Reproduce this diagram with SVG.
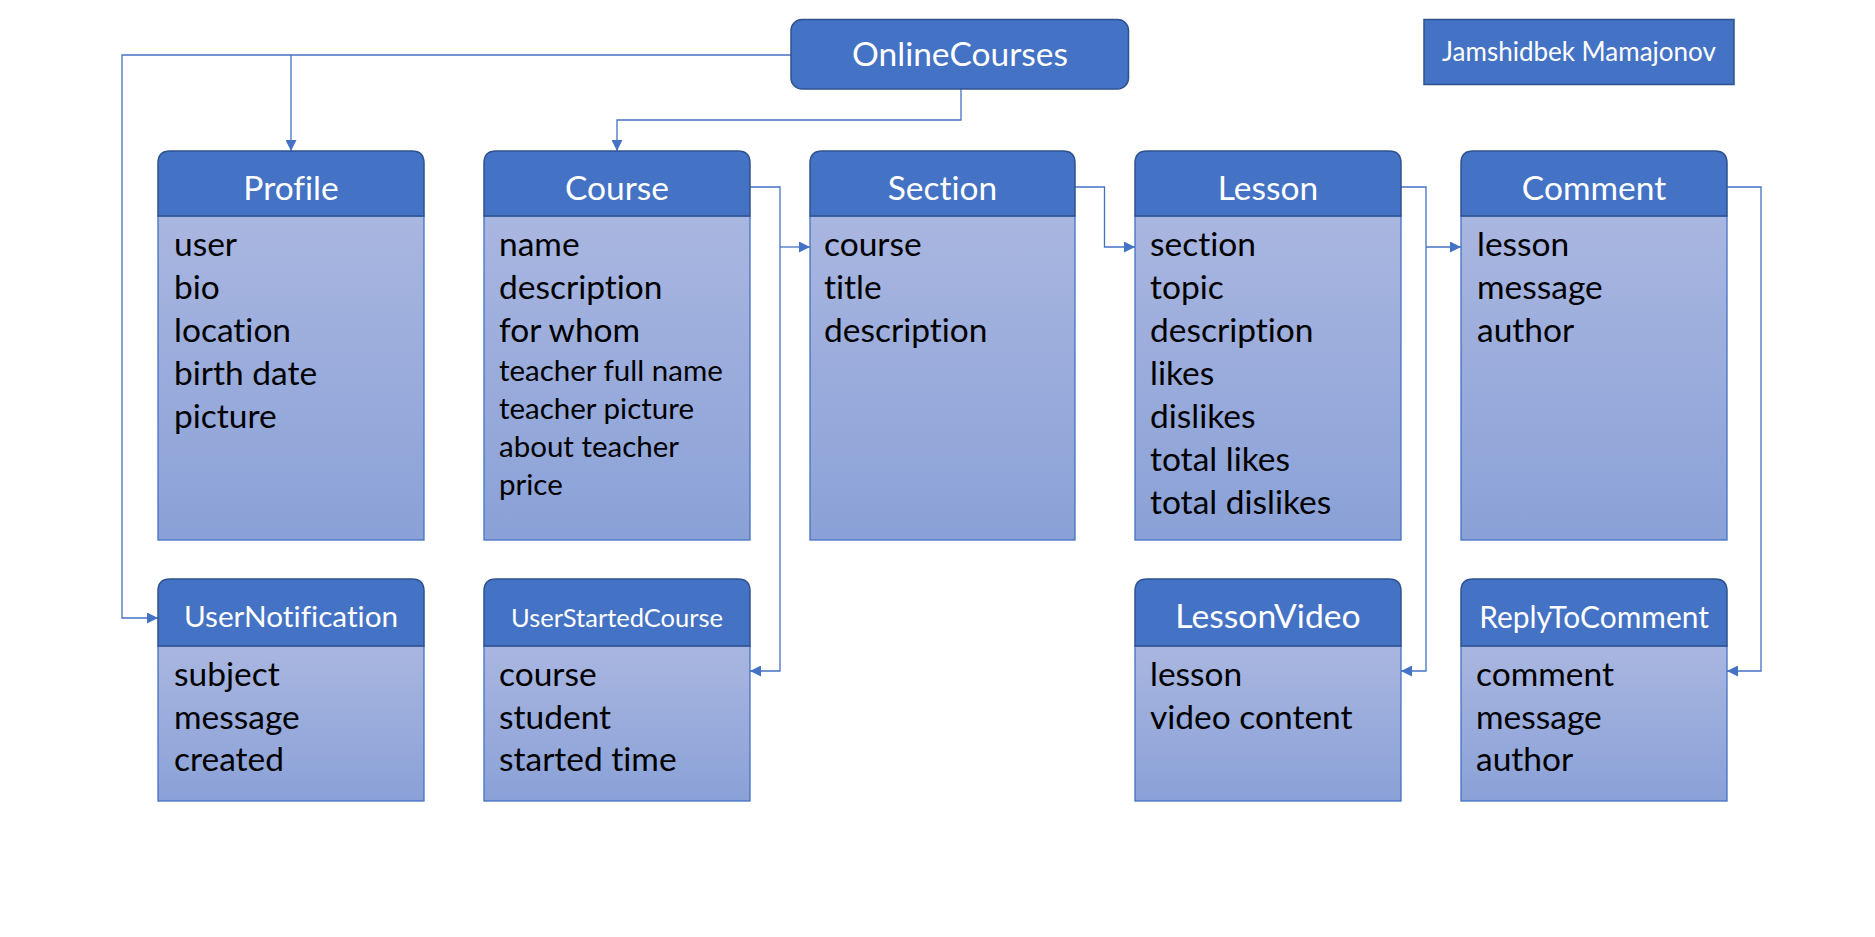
<svg xmlns="http://www.w3.org/2000/svg" width="1875" height="937" viewBox="0 0 1875 937">
<defs>
<linearGradient id="bodyGrad" x1="0" y1="0" x2="0" y2="1">
<stop offset="0" stop-color="#A9B6E0"/>
<stop offset="1" stop-color="#8AA1D7"/>
</linearGradient>
<marker id="arrow" viewBox="0 0 10 10" refX="10" refY="5" markerWidth="11" markerHeight="11" markerUnits="userSpaceOnUse" orient="auto">
<path d="M0,0 L10,5 L0,10 z" fill="#4472C4"/>
</marker>
</defs>
<style>
text{font-variant-ligatures:none;font-feature-settings:"liga" 0,"dlig" 0}
.hdr{fill:#4472C4;stroke:#2F528F;stroke-width:1.5}
.body{fill:url(#bodyGrad);stroke:#4472C4;stroke-width:1.3}
.title{font-family:Lato,"Liberation Sans",sans-serif;fill:#FFFFFF;text-anchor:middle}
.t32{font-size:33.5px}
.fld{font-family:Lato,"Liberation Sans",sans-serif;font-size:33.5px;fill:#000000}
.fsm{font-family:Lato,"Liberation Sans",sans-serif;font-size:29.5px;fill:#000000}
.conn{fill:none;stroke:#4472C4;stroke-width:1.3}
</style>
<rect width="1875" height="937" fill="#FFFFFF"/>

<g id="connectors">
<path class="conn" d="M791,55 H122 V618 H158" marker-end="url(#arrow)"/>
<path class="conn" d="M291,55 V151" marker-end="url(#arrow)"/>
<path class="conn" d="M961,89 V120 H617 V151" marker-end="url(#arrow)"/>
<path class="conn" d="M750,187 H780 V671 H750" marker-end="url(#arrow)"/>
<path class="conn" d="M780,247 H810" marker-end="url(#arrow)"/>
<path class="conn" d="M1075,187 H1104.5 V247 H1135" marker-end="url(#arrow)"/>
<path class="conn" d="M1401,187 H1426 V671 H1401" marker-end="url(#arrow)"/>
<path class="conn" d="M1426,247 H1461" marker-end="url(#arrow)"/>
<path class="conn" d="M1727,187 H1761 V671 H1727" marker-end="url(#arrow)"/>
</g>

<g id="OnlineCourses">
<rect class="hdr" x="791" y="19.5" width="337.5" height="69.5" rx="11"/>
<text class="title t32" x="960" y="66">OnlineCourses</text>
</g>

<g id="Author">
<rect class="hdr" x="1424" y="19.5" width="310" height="65"/>
<text class="title" x="1579" y="61" font-size="26">Jamshidbek Mamajonov</text>
</g>

<g id="Profile">
<rect class="body" x="158" y="216" width="266" height="324"/>
<path class="hdr" d="M158,216 V163 Q158,151 170,151 H412 Q424,151 424,163 V216 Z"/>
<text class="title t32" x="291" y="200">Profile</text>
<text class="fld" x="174" y="256">user</text>
<text class="fld" x="174" y="299">bio</text>
<text class="fld" x="174" y="342">location</text>
<text class="fld" x="174" y="385">birth date</text>
<text class="fld" x="174" y="428">picture</text>
</g>

<g id="Course">
<rect class="body" x="484" y="216" width="266" height="324"/>
<path class="hdr" d="M484,216 V163 Q484,151 496,151 H738 Q750,151 750,163 V216 Z"/>
<text class="title t32" x="617" y="200">Course</text>
<text class="fld" x="499" y="256">name</text>
<text class="fld" x="499" y="299">description</text>
<text class="fld" x="499" y="342">for whom</text>
<text class="fsm" x="499" y="381">teacher full name</text>
<text class="fsm" x="499" y="419">teacher picture</text>
<text class="fsm" x="499" y="457">about teacher</text>
<text class="fsm" x="499" y="495">price</text>
</g>

<g id="Section">
<rect class="body" x="810" y="216" width="265" height="324"/>
<path class="hdr" d="M810,216 V163 Q810,151 822,151 H1063 Q1075,151 1075,163 V216 Z"/>
<text class="title t32" x="942.5" y="200">Section</text>
<text class="fld" x="824" y="256">course</text>
<text class="fld" x="824" y="299">title</text>
<text class="fld" x="824" y="342">description</text>
</g>

<g id="Lesson">
<rect class="body" x="1135" y="216" width="266" height="324"/>
<path class="hdr" d="M1135,216 V163 Q1135,151 1147,151 H1389 Q1401,151 1401,163 V216 Z"/>
<text class="title t32" x="1268" y="200">Lesson</text>
<text class="fld" x="1150" y="256">section</text>
<text class="fld" x="1150" y="299">topic</text>
<text class="fld" x="1150" y="342">description</text>
<text class="fld" x="1150" y="385">likes</text>
<text class="fld" x="1150" y="428">dislikes</text>
<text class="fld" x="1150" y="471">total likes</text>
<text class="fld" x="1150" y="514">total dislikes</text>
</g>

<g id="Comment">
<rect class="body" x="1461" y="216" width="266" height="324"/>
<path class="hdr" d="M1461,216 V163 Q1461,151 1473,151 H1715 Q1727,151 1727,163 V216 Z"/>
<text class="title t32" x="1594" y="200">Comment</text>
<text class="fld" x="1477" y="256">lesson</text>
<text class="fld" x="1477" y="299">message</text>
<text class="fld" x="1477" y="342">author</text>
</g>

<g id="UserNotification">
<rect class="body" x="158" y="646" width="266" height="155"/>
<path class="hdr" d="M158,646 V591 Q158,579 170,579 H412 Q424,579 424,591 V646 Z"/>
<text class="title" x="291" y="627" font-size="29.7">UserNotification</text>
<text class="fld" x="174" y="686">subject</text>
<text class="fld" x="174" y="729">message</text>
<text class="fld" x="174" y="771">created</text>
</g>

<g id="UserStartedCourse">
<rect class="body" x="484" y="646" width="266" height="155"/>
<path class="hdr" d="M484,646 V591 Q484,579 496,579 H738 Q750,579 750,591 V646 Z"/>
<text class="title" x="617" y="627" font-size="25.5">UserStartedCourse</text>
<text class="fld" x="499" y="686">course</text>
<text class="fld" x="499" y="729">student</text>
<text class="fld" x="499" y="771">started time</text>
</g>

<g id="LessonVideo">
<rect class="body" x="1135" y="646" width="266" height="155"/>
<path class="hdr" d="M1135,646 V591 Q1135,579 1147,579 H1389 Q1401,579 1401,591 V646 Z"/>
<text class="title" x="1268" y="628" font-size="33.7">LessonVideo</text>
<text class="fld" x="1150" y="686">lesson</text>
<text class="fld" x="1150" y="729">video content</text>
</g>

<g id="ReplyToComment">
<rect class="body" x="1461" y="646" width="266" height="155"/>
<path class="hdr" d="M1461,646 V591 Q1461,579 1473,579 H1715 Q1727,579 1727,591 V646 Z"/>
<text class="title" x="1594" y="628" font-size="29.9">ReplyToComment</text>
<text class="fld" x="1476" y="686">comment</text>
<text class="fld" x="1476" y="729">message</text>
<text class="fld" x="1476" y="771">author</text>
</g>
</svg>
